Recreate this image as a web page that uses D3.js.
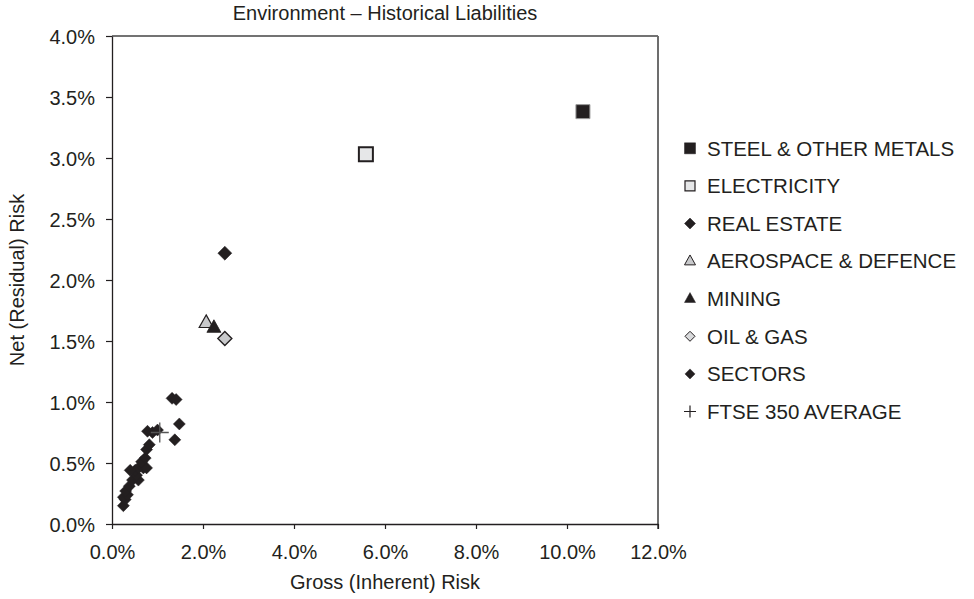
<!DOCTYPE html>
<html><head><meta charset="utf-8">
<script src="https://cdn.jsdelivr.net/npm/d3@7"></script>
<style>body{margin:0;background:#fff;} text{font-family:"Liberation Sans",Arial,Helvetica,sans-serif;fill:#231f20;}</style>
</head><body>
<svg id="chart" width="974" height="599"></svg>
<script>
const title = "Environment – Historical Liabilities";
const xLabel = "Gross (Inherent) Risk";
const yLabel = "Net (Residual) Risk";
const xTicks = [0, 0.02, 0.04, 0.06, 0.08, 0.10, 0.12];
const yTicks = [0, 0.005, 0.01, 0.015, 0.02, 0.025, 0.03, 0.035, 0.04];

// named series (gross, net)
const steel = [[0.1035, 0.0338]];
const electricity = [[0.0558, 0.0303]];
const realEstate = [[0.0248, 0.0222]];
const aerospace = [[0.0207, 0.0165]];
const mining = [[0.0224, 0.0161]];
const oilGas = [[0.0248, 0.0152]];
const sectors = [
  [0.0025,0.0015],[0.0029,0.0020],[0.0025,0.0022],[0.0034,0.0024],[0.0030,0.0027],
  [0.0038,0.0031],[0.0045,0.0036],[0.0058,0.0036],[0.0054,0.0040],[0.0051,0.0044],
  [0.0058,0.0046],[0.0069,0.0046],[0.0076,0.0046],[0.0065,0.0051],[0.0073,0.0054],
  [0.0076,0.0061],[0.0082,0.0065],[0.0078,0.0076],[0.0089,0.0075],[0.0100,0.0077],
  [0.0132,0.0103],[0.0141,0.0102],[0.0148,0.0082],[0.0138,0.0069],[0.0040,0.0044]
];
const ftse = [[0.0105, 0.0075]];

const legendNames = ["STEEL & OTHER METALS","ELECTRICITY","REAL ESTATE","AEROSPACE & DEFENCE","MINING","OIL & GAS","SECTORS","FTSE 350 AVERAGE"];

const svg = d3.select("#chart");
const pL = 112, pR = 658, pT = 36, pB = 524;
const x = d3.scaleLinear().domain([0, 0.12]).range([pL, pR]);
const y = d3.scaleLinear().domain([0, 0.04]).range([pB, pT]);
const pct = d3.format(".1%");

// frame top/right
svg.append("line").attr("x1", pL).attr("x2", pR).attr("y1", pT).attr("y2", pT).attr("stroke", "#444").attr("stroke-width", 1.3);
svg.append("line").attr("x1", pR).attr("x2", pR).attr("y1", pT).attr("y2", pB + 5).attr("stroke", "#6d6d6d").attr("stroke-width", 2);

const xAxis = svg.append("g").attr("transform", `translate(0,${pB})`)
  .call(d3.axisBottom(x).tickValues(xTicks).tickFormat(pct).tickSize(5).tickSizeOuter(0));
const yAxis = svg.append("g").attr("transform", `translate(${pL},0)`)
  .call(d3.axisLeft(y).tickValues(yTicks).tickFormat(pct).tickSize(6).tickSizeOuter(0));
[xAxis, yAxis].forEach(a => {
  a.select(".domain").attr("stroke", "#231f20").attr("stroke-width", 1.3);
  a.selectAll(".tick line").attr("stroke", "#231f20").attr("stroke-width", 1.2);
  a.selectAll("text").attr("font-size", 20).attr("font-family", "Liberation Sans, Arial, sans-serif").attr("fill", "#231f20");
});
xAxis.selectAll("text").attr("dy", null).attr("y", 35);
yAxis.selectAll("text").attr("x", -17).attr("dy", "0.35em");

svg.append("text").attr("x", (pL + pR) / 2).attr("y", 20).attr("text-anchor", "middle").attr("font-size", 20).text(title);
svg.append("text").attr("x", (pL + pR) / 2).attr("y", 589).attr("text-anchor", "middle").attr("font-size", 20).text(xLabel);
svg.append("text").attr("transform", `translate(24,${(pT + pB) / 2}) rotate(-90)`).attr("text-anchor", "middle").attr("font-size", 20).text(yLabel);

function diamond(s) { return `M0,${-s/2}L${s/2},0L0,${s/2}L${-s/2},0Z`; }
function tri(s) { const h = s * 0.9; return `M0,${-h*0.62}L${s/2},${h*0.38}L${-s/2},${h*0.38}Z`; }

const g = svg.append("g");
function draw(data, path, fill, stroke, sw) {
  g.selectAll(null).data(data).enter().append("path")
    .attr("transform", d => `translate(${x(d[0])},${y(d[1])})`)
    .attr("d", path).attr("fill", fill).attr("stroke", stroke).attr("stroke-width", sw).attr("stroke-linejoin", "miter");
}
draw(sectors, diamond(12), "#231f20", "#231f20", 0.5);
draw(ftse, "M-9,0H9M0,-10V10", "none", "#555", 1.3);
draw(realEstate, diamond(14), "#231f20", "#231f20", 0.5);
draw(aerospace, tri(14), "#c8c9cb", "#231f20", 1.2);
draw(mining, tri(14), "#231f20", "#231f20", 0.8);
draw(oilGas, diamond(14), "#c8c9cb", "#231f20", 1.4);
draw(steel, "M-7,-7H7V7H-7Z", "#231f20", "#9a9a9a", 1);
draw(electricity, "M-7,-7H7V7H-7Z", "#e6e7e8", "#231f20", 2);

// legend
const legY0 = 148.3, legStep = 37.6, mx = 690, tx = 707;
const legendMarks = [
  {d: "M-5.5,-5.5H5.5V5.5H-5.5Z", fill: "#231f20", stroke: "#231f20", sw: 0.5},
  {d: "M-5,-5H5V5H-5Z", fill: "#e6e7e8", stroke: "#231f20", sw: 1.2},
  {d: diamond(11), fill: "#231f20", stroke: "#231f20", sw: 0.5},
  {d: tri(11), fill: "#c8c9cb", stroke: "#231f20", sw: 1},
  {d: tri(11), fill: "#231f20", stroke: "#231f20", sw: 0.5},
  {d: diamond(10), fill: "#d9dadc", stroke: "#231f20", sw: 1},
  {d: diamond(10), fill: "#231f20", stroke: "#231f20", sw: 0.5},
  {d: "M-6,0H6M0,-6V6", fill: "none", stroke: "#231f20", sw: 1.2}
];
const leg = svg.append("g");
legendNames.forEach((name, i) => {
  const yy = legY0 + i * legStep;
  const m = legendMarks[i];
  leg.append("path").attr("transform", `translate(${mx},${yy})`).attr("d", m.d)
    .attr("fill", m.fill).attr("stroke", m.stroke).attr("stroke-width", m.sw);
  leg.append("text").attr("x", tx).attr("y", yy).attr("dy", "0.36em").attr("font-size", 20.5).text(name);
});
</script>
</body></html>
